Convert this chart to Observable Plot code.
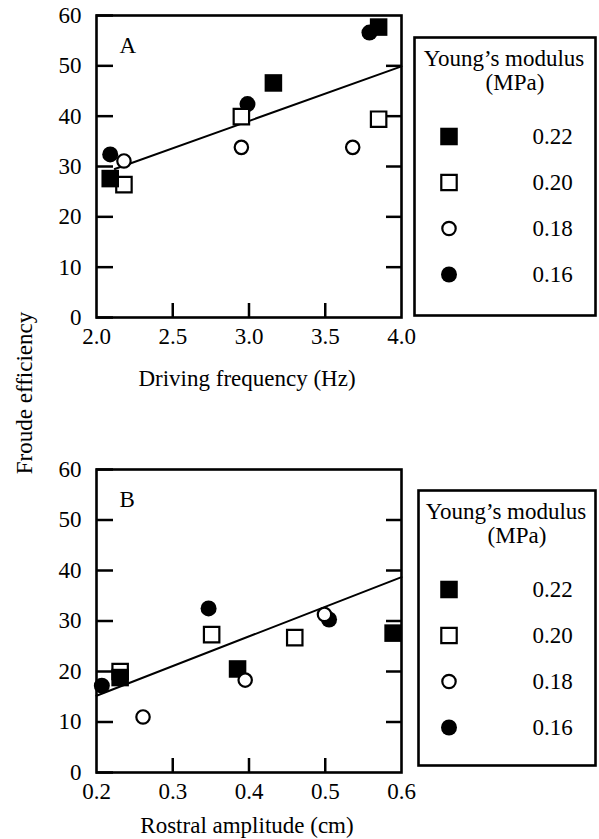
<!DOCTYPE html>
<html><head><meta charset="utf-8">
<script src="https://cdn.jsdelivr.net/npm/d3@7"></script>
<script src="https://cdn.jsdelivr.net/npm/@observablehq/plot@0.6"></script>
<style>
html,body{margin:0;padding:0;background:#fff;}
#fig{position:relative;width:599px;height:839px;overflow:hidden;font-family:"Liberation Serif",serif;color:#000;background:#fff;}
#fig > *{position:absolute;}
#fig svg text{font-family:"Liberation Serif",serif !important;}
#ylab{left:25px;top:393px;transform:translate(-50%,-50%) rotate(-90deg);font-size:23px;white-space:nowrap;font-family:"Liberation Serif",serif;}
</style></head><body><div id="fig"><div id="ylab">Froude efficiency</div></div>
<script>
// ---- categories & ticks ----
const moduli = ["0.22", "0.20", "0.18", "0.16"];
const legendTitle = ["Young’s modulus", "(MPa)"];
const yTicks = [0, 10, 20, 30, 40, 50, 60];
const yInnerTicks = [10, 20, 30, 40, 50];
const aXTicks = [2.0, 2.5, 3.0, 3.5, 4.0];
const aXInnerTicks = [2.5, 3.0, 3.5];
const bXTicks = [0.2, 0.3, 0.4, 0.5, 0.6];
const bXInnerTicks = [0.3, 0.4, 0.5];

// ---- Panel A: driving frequency (Hz) vs Froude efficiency ----
const aFreq022 = [2.09, 3.16, 3.85];
const aEff022  = [27.6, 46.6, 57.7];
const aFreq020 = [2.18, 2.95, 3.85];
const aEff020  = [26.4, 39.9, 39.4];
const aFreq018 = [2.18, 2.95, 3.68];
const aEff018  = [31.1, 33.8, 33.8];
const aFreq016 = [2.09, 2.99, 3.79];
const aEff016  = [32.4, 42.4, 56.6];
const aFitX = [2.12, 4.0];
const aFitY = [29.5, 49.9];

// ---- Panel B: rostral amplitude (cm) vs Froude efficiency ----
const bAmp022 = [0.231, 0.385, 0.589];
const bEff022 = [18.8, 20.5, 27.6];
const bAmp020 = [0.231, 0.351, 0.460];
const bEff020 = [20.0, 27.3, 26.7];
const bAmp018 = [0.261, 0.395, 0.499];
const bEff018 = [11.0, 18.3, 31.3];
const bAmp016 = [0.207, 0.347, 0.505];
const bEff016 = [17.2, 32.5, 30.3];
const bFitX = [0.2, 0.6];
const bFitY = [15.2, 38.7];

// ---- styles ----
const markStyle = {
  "0.22": {symbol: "square", fill: "black", r: 9.9},
  "0.20": {symbol: "square", fill: "white", stroke: "black", strokeWidth: 2.2, r: 8.7},
  "0.18": {symbol: "circle", fill: "white", stroke: "black", strokeWidth: 2.2, r: 6.7},
  "0.16": {symbol: "circle", fill: "black", r: 8}
};
const drawOrder = ["0.16", "0.20", "0.22", "0.18"];
const FONT = "Liberation Serif";
const txt = {fontFamily: FONT, fontSize: 23};
const fig = document.getElementById("fig");

function finish(svg, left, top) {
  svg.setAttribute("font-family", FONT);
  svg.setAttribute("font-size", "23");
  svg.style.left = left + "px";
  svg.style.top = top + "px";
  fig.appendChild(svg);
}

function panel({series, xDomain, xTicks, xInner, fitX, fitY, letter, xTitle, titleDy, top, height, marginBottom}) {
  const fit = fitX.map((x, i) => ({x, y: fitY[i]}));
  const dots = drawOrder.map(m => {
    const [xs, ys] = series[m];
    return Plot.dot(xs, {x: xs, y: ys, ...markStyle[m]});
  });
  const svg = Plot.plot({
    width: 410, height, marginLeft: 96, marginRight: 9, marginTop: 15, marginBottom,
    x: {domain: xDomain, label: null, axis: null},
    y: {domain: [0, 60], label: null, axis: null},
    style: {fontFamily: FONT, fontSize: "23px", background: "transparent", overflow: "visible", color: "black"},
    marks: [
      Plot.axisY(yTicks, {anchor: "left", tickSize: 17, dx: 17, tickPadding: 15, strokeWidth: 2.5, label: null, ...txt}),
      Plot.axisY(yInnerTicks, {anchor: "right", tickSize: 16, dx: -16, strokeWidth: 2.5, fill: "none", label: null}),
      Plot.axisX(xInner, {anchor: "bottom", tickSize: 14, dy: -14, strokeWidth: 2.5, fill: "none", label: null}),
      Plot.axisX(xTicks, {anchor: "bottom", tickSize: 0, tickPadding: 10, tickFormat: d3.format(".1f"), label: null, ...txt}),
      Plot.line(fit, {x: "x", y: "y", strokeWidth: 2, stroke: "black"}),
      ...dots,
      Plot.frame({strokeWidth: 2.6, stroke: "black"}),
      Plot.text([letter], {frameAnchor: "top-left", dx: 23, dy: 30, textAnchor: "start", lineAnchor: "middle", ...txt}),
      Plot.text([xTitle], {frameAnchor: "bottom", dx: -2, dy: titleDy, lineAnchor: "middle", ...txt})
    ]
  });
  finish(svg, 0, top);
}

function legend({left, top, w, h}) {
  const markerX = 448.5 - left, valueX = 532 - left;
  const svg = Plot.plot({
    width: w, height: h, margin: 0,
    x: {axis: null},
    y: {type: "point", domain: moduli, range: [75, 260], axis: null},
    style: {fontFamily: FONT, fontSize: "23px", background: "white", overflow: "visible", color: "black"},
    marks: [
      Plot.frame({strokeWidth: 2.6, stroke: "black"}),
      Plot.text([legendTitle[0]], {frameAnchor: "top", dx: -1, dy: 21, lineAnchor: "middle", ...txt}),
      Plot.text([legendTitle[1]], {frameAnchor: "top", dx: 10, dy: 45, lineAnchor: "middle", ...txt}),
      ...moduli.map(m => Plot.dot([m], {y: d => d, frameAnchor: "left", dx: markerX, ...markStyle[m]})),
      Plot.text(moduli, {y: d => d, text: d => d, frameAnchor: "left", dx: valueX, textAnchor: "start", ...txt})
    ]
  });
  finish(svg, left, top);
}

panel({
  series: {"0.22": [aFreq022, aEff022], "0.20": [aFreq020, aEff020], "0.18": [aFreq018, aEff018], "0.16": [aFreq016, aEff016]},
  xDomain: [2, 4], xTicks: aXTicks, xInner: aXInnerTicks, fitX: aFitX, fitY: aFitY,
  letter: "A", xTitle: "Driving frequency (Hz)", titleDy: 61, top: 0, height: 400, marginBottom: 83
});
panel({
  series: {"0.22": [bAmp022, bEff022], "0.20": [bAmp020, bEff020], "0.18": [bAmp018, bEff018], "0.16": [bAmp016, bEff016]},
  xDomain: [0.2, 0.6], xTicks: bXTicks, xInner: bXInnerTicks, fitX: bFitX, fitY: bFitY,
  letter: "B", xTitle: "Rostral amplitude (cm)", titleDy: 53, top: 454, height: 385, marginBottom: 67
});
legend({left: 414, top: 37, w: 181, h: 278});
legend({left: 418, top: 490, w: 177, h: 275});
</script>
</body></html>
